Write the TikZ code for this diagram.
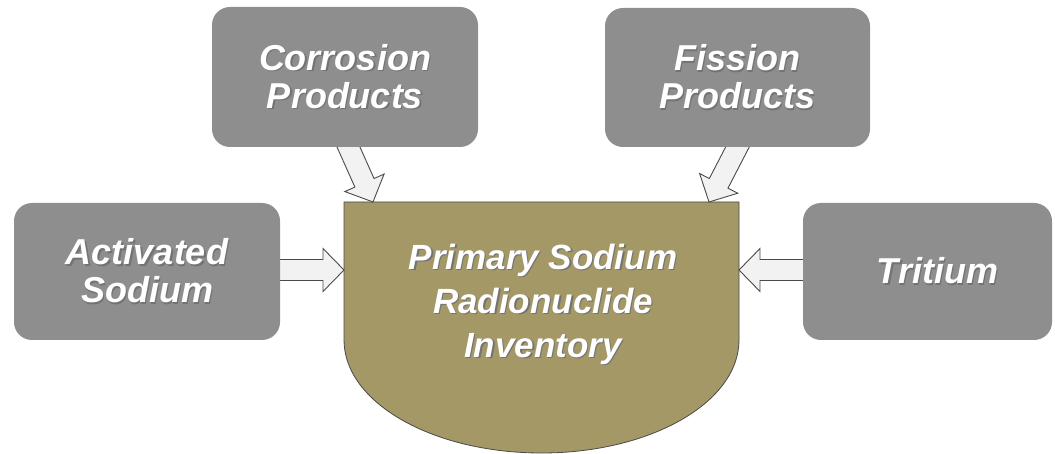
\documentclass[tikz,border=0pt]{standalone}
\usepackage{fontspec}
\setmainfont{Liberation Sans}
\usetikzlibrary{calc}
\pgfdeclarelayer{back}
\pgfdeclarelayer{mid}
\pgfsetlayers{back,mid,main}

\definecolor{boxgray}{HTML}{8E8E8E}
\definecolor{olive}{HTML}{A39866}
\definecolor{arrowfill}{HTML}{F2F2F2}
\definecolor{edgegray}{HTML}{4A4A4A}

% white lettering with a soft dark drop shadow
\newcommand\shtxt[1]{\makebox[0pt][l]{\hspace{1.3pt}\raisebox{-1.3pt}{\textcolor{black!55}{#1}}}#1}

% broad outlined block arrow from #1 to #2
\newcommand\fatarrow[2]{%
  \coordinate (hb) at ($(#2)!21pt!(#1)$);
  \draw[blockarrow] ($(#1)!10.5pt!90:(#2)$) -- ($(hb)!10.5pt!90:(#2)$)
    -- ($(hb)!21.5pt!90:(#2)$) -- (#2) -- ($(hb)!21.5pt!-90:(#2)$)
    -- ($(hb)!10.5pt!-90:(#2)$) -- ($(#1)!10.5pt!-90:(#2)$) -- cycle;
}

\tikzset{
  source/.style={fill=boxgray, rounded corners=18pt, inner sep=0pt,
    text=white, align=center,
    font=\fontsize{36}{38}\selectfont\bfseries\itshape},
  blockarrow/.style={fill=arrowfill, draw=edgegray, line width=0.9pt, line join=miter},
  pool/.style={fill=olive, draw=edgegray, line width=0.8pt},
  pooltext/.style={text=white, align=center, inner sep=0pt,
    font=\fontsize{35}{44}\selectfont\bfseries\itshape}
}

\begin{document}
\begin{tikzpicture}[x=1pt, y=-1pt]
  \useasboundingbox (0,0) rectangle (1055,454);

  % source boxes
  \node[source, minimum width=266pt, minimum height=140pt] (corr) at (345,77)
    {\shtxt{Corrosion}\\\shtxt{Products}};
  \node[source, minimum width=265pt, minimum height=139pt] (fis) at (737.5,77.5)
    {\shtxt{Fission}\\\shtxt{Products}};
  \node[source, minimum width=266pt, minimum height=137pt] (act) at (147,271.5)
    {\shtxt{Activated}\\\shtxt{Sodium}};
  \node[source, minimum width=249pt, minimum height=137pt] (trit) at (927.5,271.5)
    {\hspace*{20pt}\shtxt{Tritium}};

  % inventory pool: square top, elliptical bottom
  \begin{pgfonlayer}{back}
    \draw[pool] (344,202) -- (739,202) -- (739,340)
      arc[start angle=0, end angle=-180, x radius=197.5pt, y radius=113pt] -- cycle;
  \end{pgfonlayer}
  \node[pooltext] (inv) at (543,305)
    {\shtxt{Primary Sodium}\\\shtxt{Radionuclide}\\\shtxt{Inventory}};

  % entry points on the pool outline
  \coordinate (inC) at (373,202);
  \coordinate (inF) at (709,202);
  \coordinate (inA) at (344,270);
  \coordinate (inT) at (739,270);
  \coordinate (outC) at ([yshift=8pt]corr.south);
  \coordinate (outF) at ([shift={(4pt,8pt)}]fis.south);
  \coordinate (outA) at ([xshift=-6pt]act.east |- inA);
  \coordinate (outT) at ([xshift=6pt]trit.west |- inT);

  \begin{pgfonlayer}{mid}
    \fatarrow{outC}{inC}
    \fatarrow{outF}{inF}
    \fatarrow{outA}{inA}
    \fatarrow{outT}{inT}
  \end{pgfonlayer}
\end{tikzpicture}
\end{document}
